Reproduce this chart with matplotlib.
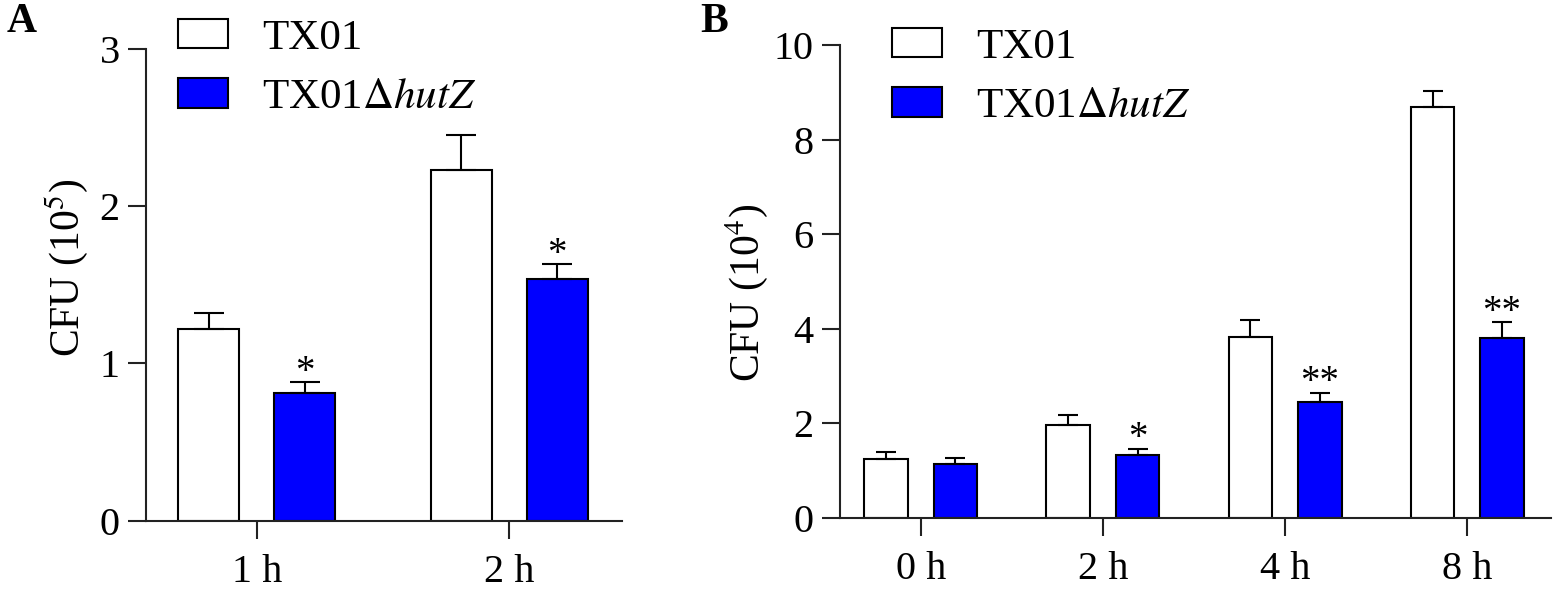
import matplotlib
matplotlib.use('Agg')
import matplotlib.pyplot as plt
from matplotlib.patches import Patch
import numpy as np

plt.rcParams['font.family'] = ['Liberation Serif', 'DejaVu Serif']
plt.rcParams['mathtext.fontset'] = 'stix'

# Panel A data (CFU x 10^5)
a_labels = ['1 h', '2 h']
a_tx01 = [1.22, 2.23]
a_tx01_err = [0.10, 0.22]
a_hutz = [0.81, 1.54]
a_hutz_err = [0.07, 0.09]
a_sig = ['*', '*']

# Panel B data (CFU x 10^4)
b_labels = ['0 h', '2 h', '4 h', '8 h']
b_tx01 = [1.25, 1.97, 3.83, 8.68]
b_tx01_err = [0.14, 0.21, 0.35, 0.35]
b_hutz = [1.15, 1.34, 2.45, 3.80]
b_hutz_err = [0.11, 0.12, 0.20, 0.34]
b_sig = ['', '*', '**', '**']

BLUE = '#0000FF'
AXCOL = '#222222'
width = 0.24
off = 0.19

fig = plt.figure(figsize=(15.59, 5.94), dpi=100)
axA = fig.add_axes([0.0937, 0.1234, 0.3051, 0.7941])
axB = fig.add_axes([0.5388, 0.1280, 0.4559, 0.7962])


def draw(ax, labels, tx, tx_err, hz, hz_err, sig, ymax, ystep, capsize, xlim, ylab):
    x = np.arange(len(labels))
    ax.bar(x - off, tx, width, color='white', edgecolor='black', linewidth=1.5,
           yerr=[np.zeros(len(tx)), tx_err], capsize=capsize,
           error_kw=dict(elinewidth=1.5, capthick=1.5, ecolor='black'))
    ax.bar(x + off, hz, width, color=BLUE, edgecolor='black', linewidth=1.5,
           yerr=[np.zeros(len(hz)), hz_err], capsize=capsize,
           error_kw=dict(elinewidth=1.5, capthick=1.5, ecolor='black'))
    for xi, v, e, s in zip(x, hz, hz_err, sig):
        if s:
            ax.annotate(s, xy=(xi + off, v + e), xytext=(0, -6),
                        textcoords='offset points', ha='center', va='bottom',
                        fontsize=28)
    ax.set_xlim(*xlim)
    ax.set_ylim(0, ymax)
    ax.set_yticks(np.arange(0, ymax + 0.01, ystep))
    ax.set_xticks(x)
    ax.set_xticklabels(labels)
    for sp in ['top', 'right']:
        ax.spines[sp].set_visible(False)
    for sp in ['left', 'bottom']:
        ax.spines[sp].set_linewidth(1.5)
        ax.spines[sp].set_color(AXCOL)
    ax.tick_params(axis='both', direction='out', length=13, width=1.5,
                   color=AXCOL, labelsize=29, pad=6)
    ax.tick_params(axis='x', pad=11)
    ax.set_ylabel(ylab, fontsize=30)


draw(axA, a_labels, a_tx01, a_tx01_err, a_hutz, a_hutz_err, a_sig,
     3, 1, 11, (-0.438, 1.445), 'CFU (10$^5$)')
draw(axB, b_labels, b_tx01, b_tx01_err, b_hutz, b_hutz_err, b_sig,
     10, 2, 7, (-0.444, 3.459), 'CFU (10$^4$)')

axA.yaxis.set_label_coords(-0.118, 0.536)
axB.yaxis.set_label_coords(-0.098, 0.476)

handles = [Patch(facecolor='white', edgecolor='black', linewidth=1.5),
           Patch(facecolor=BLUE, edgecolor='black', linewidth=1.5)]
names = ['TX01', 'TX01$\\Delta$$\\mathit{hutZ}$']
for ax, anchor in [(axA, (0.0666, 1.064)), (axB, (0.0727, 1.036))]:
    ax.legend(handles, names, loc='upper left', bbox_to_anchor=anchor,
              frameon=False, fontsize=31, borderaxespad=0, borderpad=0,
              handlelength=1.16, handleheight=0.67, handletextpad=0.8,
              labelspacing=0.48)

fig.text(7 / 1559, 0.995, 'A', fontsize=30, fontweight='bold', ha='left', va='top')
fig.text(700 / 1559, 0.995, 'B', fontsize=30, fontweight='bold', ha='left', va='top')

fig.savefig('out.png', dpi=100)
